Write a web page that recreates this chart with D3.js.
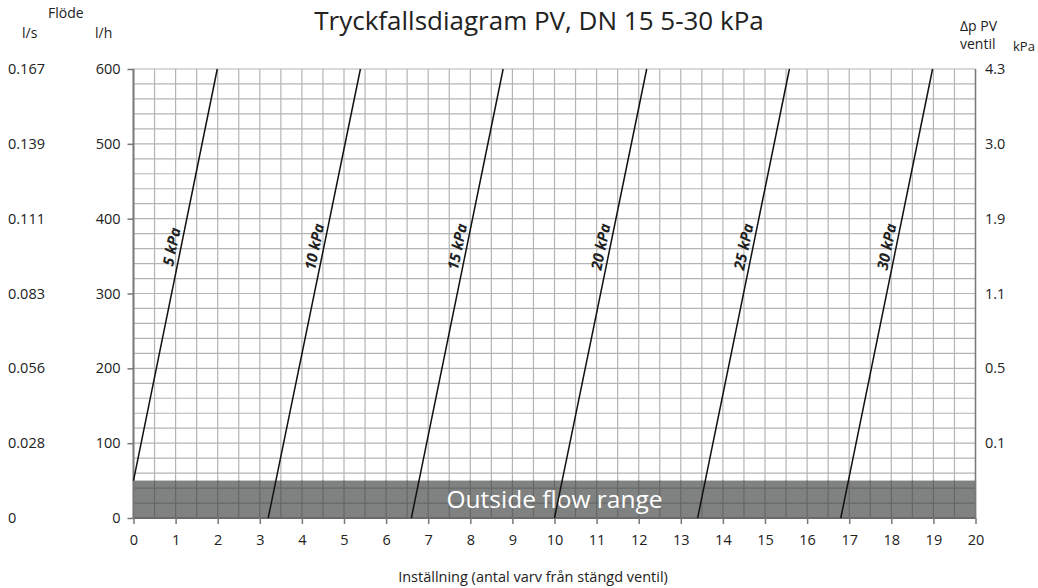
<!DOCTYPE html>
<html>
<head>
<meta charset="utf-8">
<script src="https://cdn.jsdelivr.net/npm/d3@7"></script>
<style>
  body { margin: 0; background: #fff; }
  text { font-family: 'Open Sans', sans-serif; fill: #222; }
</style>
</head>
<body>
<svg></svg>
<script>
// values
var flowTicks = [0, 100, 200, 300, 400, 500, 600];           // l/h
var lsTicks = ['0', '0.028', '0.056', '0.083', '0.111', '0.139', '0.167'];
var kpaFlows = [100, 200, 300, 400, 500, 600];
var kpaTicks = ['0.1', '0.5', '1.1', '1.9', '3.0', '4.3'];
var turnTicks = d3.range(0, 21);
var pressures = ['5 kPa', '10 kPa', '15 kPa', '20 kPa', '25 kPa', '30 kPa'];
var startX = [0, 3.2, 6.6, 10.0, 13.4, 16.8];
var startFlow = [50, 0, 0, 0, 0, 0];
var endX = [1.99, 5.39, 8.78, 12.19, 15.58, 18.98];
var endFlow = [600, 600, 600, 600, 600, 600];
var outsideFlow = 50;
var labelFlow = 360;

var W = 1038, H = 588;
var svg = d3.select('svg').attr('width', W).attr('height', H);

var x = d3.scaleLinear().domain([0, 20]).range([133.5, 975.5]);
var y = d3.scaleLinear().domain([0, 600]).range([518, 69]);

var g = svg.append('g');

// light grid
var gx = d3.range(0, 20.01, 0.5), gy = d3.range(0, 600.1, 20);
g.selectAll('.vx').data(gx).enter().append('line')
    .attr('x1', d => x(d)).attr('x2', d => x(d))
    .attr('y1', y(600)).attr('y2', y(0))
    .attr('stroke', '#b4b4b4').attr('stroke-width', 1.2);
g.selectAll('.hy').data(gy).enter().append('line')
    .attr('x1', x(0)).attr('x2', x(20))
    .attr('y1', d => y(d)).attr('y2', d => y(d))
    .attr('stroke', '#b4b4b4').attr('stroke-width', 1.2);

// outside flow range band
g.append('rect')
    .attr('x', x(0)).attr('width', x(20) - x(0))
    .attr('y', y(outsideFlow)).attr('height', y(0) - y(outsideFlow))
    .attr('fill', '#808282');
g.selectAll('.vs').data(gx).enter().append('line')
    .attr('x1', d => x(d)).attr('x2', d => x(d))
    .attr('y1', y(outsideFlow)).attr('y2', y(0))
    .attr('stroke', '#666').attr('stroke-width', 1.2);
g.selectAll('.hs').data(gy.filter(d => d < outsideFlow)).enter().append('line')
    .attr('x1', x(0)).attr('x2', x(20))
    .attr('y1', d => y(d)).attr('y2', d => y(d))
    .attr('stroke', '#666').attr('stroke-width', 1.2);
g.append('text')
    .attr('x', x(10)).attr('y', y(outsideFlow / 2))
    .attr('dy', '0.35em').attr('text-anchor', 'middle')
    .style('font-size', '24.5px').style('fill', '#fff')
    .text('Outside flow range');

// frame
g.append('line').attr('x1', x(0)).attr('x2', x(0)).attr('y1', y(600)).attr('y2', y(0))
    .attr('stroke', '#7a7a7a').attr('stroke-width', 2);
g.append('line').attr('x1', x(20)).attr('x2', x(20)).attr('y1', y(600)).attr('y2', y(0))
    .attr('stroke', '#7a7a7a').attr('stroke-width', 1.5);
g.append('line').attr('x1', x(0)).attr('x2', x(20)).attr('y1', y(0)).attr('y2', y(0))
    .attr('stroke', '#6a6a6a').attr('stroke-width', 2);

// axes
var yAxis = svg.append('g').attr('transform', 'translate(' + x(0) + ',0)')
    .call(d3.axisLeft(y).tickValues(flowTicks).tickSize(6).tickPadding(7));
var xAxis = svg.append('g').attr('transform', 'translate(0,' + y(0) + ')')
    .call(d3.axisBottom(x).tickValues(turnTicks).tickSize(6).tickPadding(11));
[yAxis, xAxis].forEach(function (a) {
    a.select('.domain').remove();
    a.selectAll('line').attr('stroke', '#777').attr('stroke-width', 1.5);
    a.selectAll('text').style('font-size', '14.5px').style('font-family', "'Open Sans', sans-serif").attr('fill', '#222');
});

// l/s column
svg.selectAll('.ls').data(lsTicks).enter().append('text')
    .attr('x', 8).attr('y', (d, i) => y(flowTicks[i])).attr('dy', '0.35em')
    .style('font-size', '14.5px').text(d => d);
// kPa column
svg.selectAll('.kpa').data(kpaTicks).enter().append('text')
    .attr('x', 985).attr('y', (d, i) => y(kpaFlows[i])).attr('dy', '0.35em')
    .style('font-size', '14.5px').text(d => d);

// headers
svg.append('text').attr('x', 48).attr('y', 18).style('font-size', '14px').text('Flöde');
svg.append('text').attr('x', 22).attr('y', 38).style('font-size', '14px').text('l/s');
svg.append('text').attr('x', 95).attr('y', 38).style('font-size', '14px').text('l/h');
svg.append('text').attr('x', 960).attr('y', 31).style('font-size', '14px').text('Δp PV');
svg.append('text').attr('x', 960).attr('y', 49).style('font-size', '14px').text('ventil');
svg.append('text').attr('x', 1013).attr('y', 51).style('font-size', '13px').text('kPa');

// title and x title
svg.append('text').attr('x', 539).attr('y', 30).attr('text-anchor', 'middle')
    .style('font-size', '26px').text('Tryckfallsdiagram PV, DN 15 5-30 kPa');
svg.append('text').attr('x', 533).attr('y', 582).attr('text-anchor', 'middle')
    .style('font-size', '14.5px').text('Inställning (antal varv från stängd ventil)');

// pressure lines
var lines = pressures.map((p, i) => ({ p: p, pts: [[startX[i], startFlow[i]], [endX[i], endFlow[i]]] }));
var lineGen = d3.line().x(d => x(d[0])).y(d => y(d[1]));
svg.selectAll('.pl').data(lines).enter().append('path')
    .attr('d', d => lineGen(d.pts))
    .attr('fill', 'none').attr('stroke', '#111').attr('stroke-width', 1.5);

svg.selectAll('.plab').data(lines).enter().append('text')
    .attr('transform', function (d) {
        var a = d.pts[0], b = d.pts[1];
        var t = (labelFlow - a[1]) / (b[1] - a[1]);
        var px = x(a[0] + t * (b[0] - a[0])), py = y(labelFlow);
        var ang = Math.atan2(y(b[1]) - y(a[1]), x(b[0]) - x(a[0])) * 180 / Math.PI;
        return 'translate(' + px + ',' + py + ') rotate(' + ang + ')';
    })
    .attr('dy', -4).attr('text-anchor', 'middle')
    .style('font-size', '15px').style('font-weight', 'bold').style('font-style', 'italic')
    .style('fill', '#222')
    .text(d => d.p);
</script>
</body>
</html>
